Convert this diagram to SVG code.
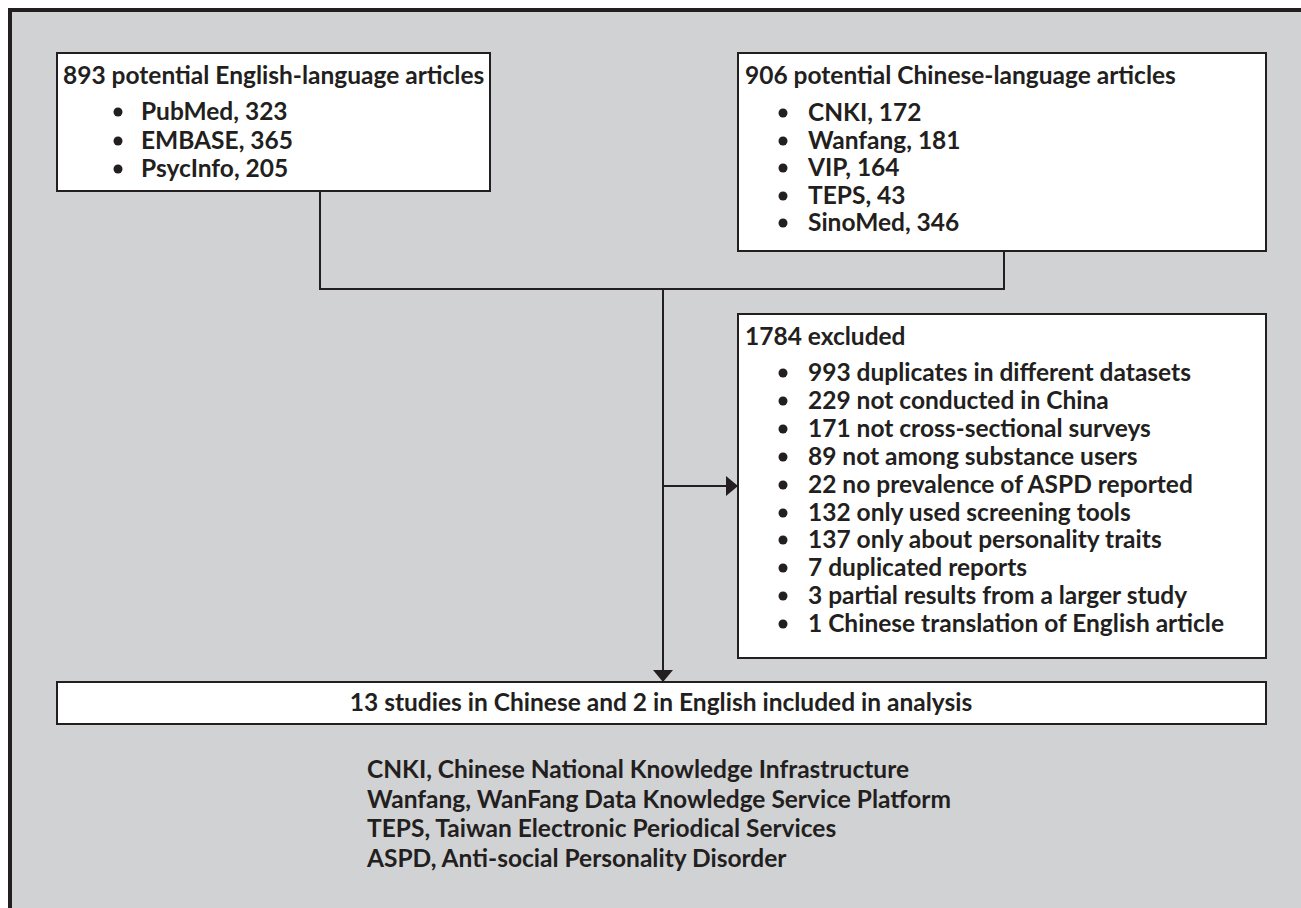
<svg xmlns="http://www.w3.org/2000/svg" width="1301" height="908" viewBox="0 0 1301 908">
<defs>
<style>
.t{font-family:Lato,"Liberation Sans",sans-serif;font-weight:700;font-size:24.5px;fill:#231f20}
.box{fill:#ffffff;stroke:#231f20;stroke-width:2}
.ln{fill:none;stroke:#231f20;stroke-width:2}
.dot{fill:#231f20}
</style>
<marker id="ah" markerUnits="userSpaceOnUse" markerWidth="12" markerHeight="20" refX="12" refY="10" orient="auto">
<path d="M0,0 L12,10 L0,20 Z" fill="#231f20"/>
</marker>
</defs>
<rect x="0" y="0" width="1301" height="908" fill="#ffffff"/>
<rect x="10" y="10" width="1291" height="898" fill="#d1d2d4"/>
<path d="M10,908 V10 H1301" fill="none" stroke="#231f20" stroke-width="4"/>

<g id="connectors">
<path class="ln" d="M320,191 V289 H1004 V251"/>
<path class="ln" d="M663,289 V682" marker-end="url(#ah)"/>
<path class="ln" d="M663,486 H738" marker-end="url(#ah)"/>
</g>

<g id="english">
<rect class="box" x="57" y="53" width="433" height="138"/>
<text class="t" x="63" y="84">893 potential English-language articles</text>
<circle class="dot" cx="118" cy="112" r="4.5"/>
<text class="t" x="141" y="120">PubMed, 323</text>
<circle class="dot" cx="118" cy="141" r="4.5"/>
<text class="t" x="141" y="149">EMBASE, 365</text>
<circle class="dot" cx="118" cy="169" r="4.5"/>
<text class="t" x="141" y="177">PsycInfo, 205</text>
</g>

<g id="chinese">
<rect class="box" x="738" y="53" width="528" height="198"/>
<text class="t" x="745" y="84">906 potential Chinese-language articles</text>
<circle class="dot" cx="783" cy="113" r="4.5"/>
<text class="t" x="808" y="121">CNKI, 172</text>
<circle class="dot" cx="783" cy="141" r="4.5"/>
<text class="t" x="808" y="149">Wanfang, 181</text>
<circle class="dot" cx="783" cy="168" r="4.5"/>
<text class="t" x="808" y="176">VIP, 164</text>
<circle class="dot" cx="783" cy="196" r="4.5"/>
<text class="t" x="808" y="204">TEPS, 43</text>
<circle class="dot" cx="783" cy="223" r="4.5"/>
<text class="t" x="808" y="231">SinoMed, 346</text>
</g>

<g id="excluded">
<rect class="box" x="738" y="314" width="528" height="344"/>
<text class="t" x="745" y="345">1784 excluded</text>
<circle class="dot" cx="783" cy="373" r="4.5"/>
<text class="t" x="808" y="381">993 duplicates in different datasets</text>
<circle class="dot" cx="783" cy="401" r="4.5"/>
<text class="t" x="808" y="409">229 not conducted in China</text>
<circle class="dot" cx="783" cy="429" r="4.5"/>
<text class="t" x="808" y="437">171 not cross-sectional surveys</text>
<circle class="dot" cx="783" cy="457" r="4.5"/>
<text class="t" x="808" y="465">89 not among substance users</text>
<circle class="dot" cx="783" cy="485" r="4.5"/>
<text class="t" x="808" y="493">22 no prevalence of ASPD reported</text>
<circle class="dot" cx="783" cy="513" r="4.5"/>
<text class="t" x="808" y="521">132 only used screening tools</text>
<circle class="dot" cx="783" cy="540" r="4.5"/>
<text class="t" x="808" y="548">137 only about personality traits</text>
<circle class="dot" cx="783" cy="568" r="4.5"/>
<text class="t" x="808" y="576">7 duplicated reports</text>
<circle class="dot" cx="783" cy="596" r="4.5"/>
<text class="t" x="808" y="604">3 partial results from a larger study</text>
<circle class="dot" cx="783" cy="624" r="4.5"/>
<text class="t" x="808" y="632">1 Chinese translation of English article</text>
</g>

<g id="included">
<rect class="box" x="57" y="682" width="1209" height="42"/>
<text class="t" x="661" y="711" text-anchor="middle">13 studies in Chinese and 2 in English included in analysis</text>
</g>

<g id="notes">
<text class="t" x="367" y="778">CNKI, Chinese National Knowledge Infrastructure</text>
<text class="t" x="367" y="808">Wanfang, WanFang Data Knowledge Service Platform</text>
<text class="t" x="367" y="837">TEPS, Taiwan Electronic Periodical Services</text>
<text class="t" x="367" y="867">ASPD, Anti-social Personality Disorder</text>
</g>
</svg>
